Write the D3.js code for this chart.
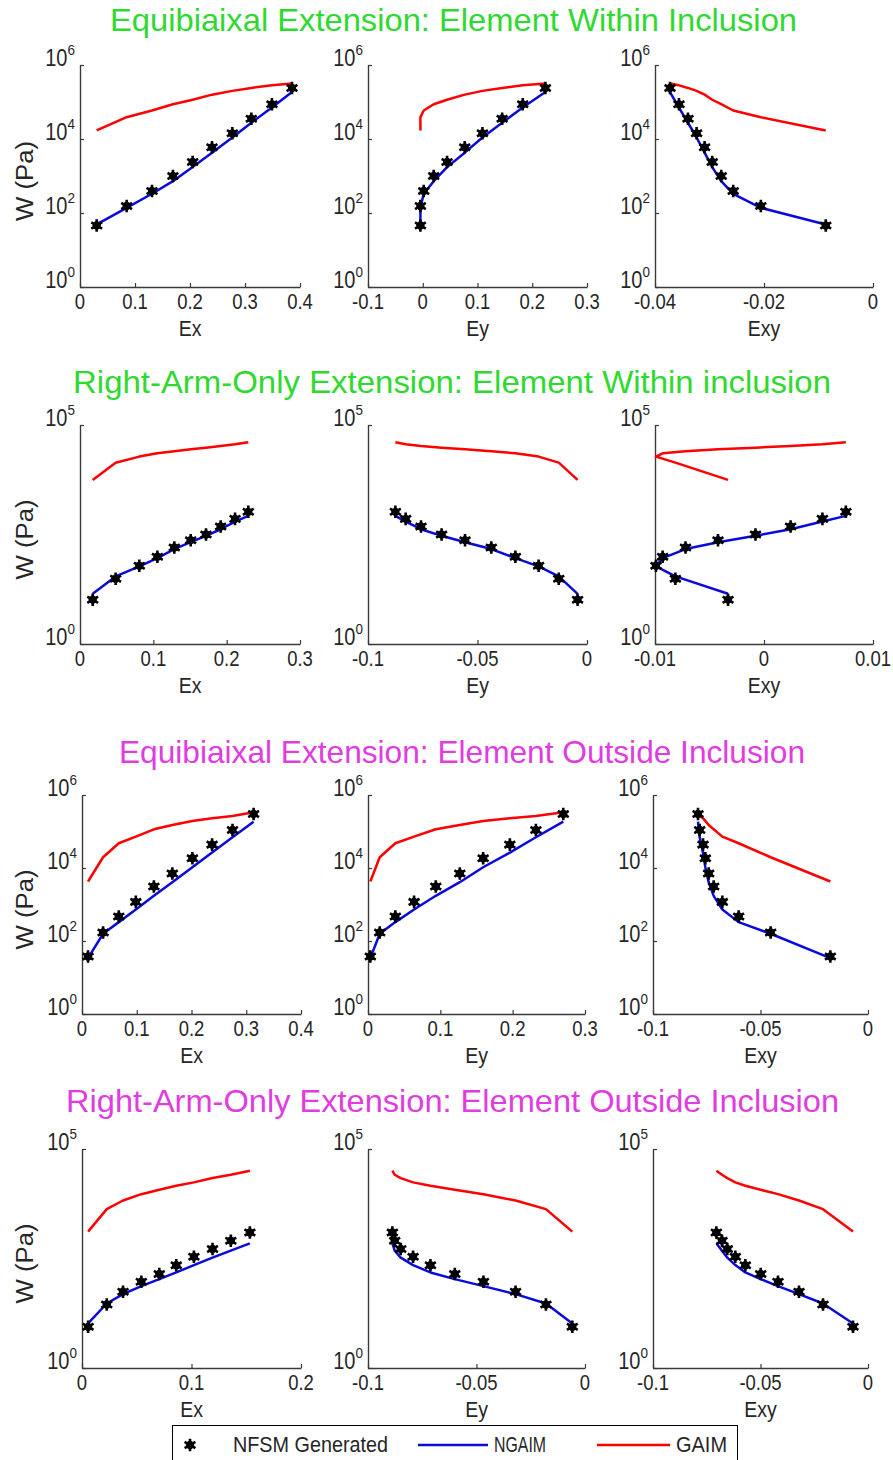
<!DOCTYPE html>
<html>
<head>
<meta charset="utf-8">
<script src="https://cdn.jsdelivr.net/npm/d3@7"></script>
<style>
  body { margin: 0; background: #fff; }
  svg { display: block; }
  text { font-family: "Liberation Sans", Arial, sans-serif; }
</style>
</head>
<body>
<svg id="fig" width="893" height="1460"></svg>
<script>
// ---- Load steps (1..10) for each loading case: strains and strain energy W (Pa) ----

// Equibiaixal extension, element within inclusion
const row1Ex    = [0.0303, 0.0848, 0.1309, 0.169, 0.2048, 0.24, 0.277, 0.3115, 0.349, 0.3855];
const row1Ey    = [-0.0043, -0.0043, 0.0018, 0.020, 0.0444, 0.0767, 0.109, 0.145, 0.1826, 0.224];
const row1Exy   = [-0.00867, -0.02058, -0.02565, -0.02785, -0.0295, -0.0309, -0.03237, -0.03395, -0.0356, -0.03725];
const row1Nfsm  = [46, 155, 394, 1000, 2390, 5950, 14200, 35500, 86500, 239000];
const row1Ngaim = [49, 138, 331, 724, 1740, 4270, 11000, 27500, 70800, 186000];
const row1Gaim  = [17000, 38900, 58900, 87100, 115000, 158000, 200000, 240000, 282000, 316000];

// Right-arm-only extension, element within inclusion
const row2Ex    = [0.0173, 0.0486, 0.0809, 0.1055, 0.1286, 0.1509, 0.1718, 0.1918, 0.2114, 0.2295];
const row2Ey    = [-0.0043, -0.0129, -0.0221, -0.0327, -0.0437, -0.0557, -0.0664, -0.0758, -0.0828, -0.0875];
const row2Exy   = [-0.0033, -0.00813, -0.00991, -0.0093, -0.0072, -0.00422, -0.00078, 0.00244, 0.00536, 0.00751];
const row2Nfsm  = [10.3, 30.8, 61.1, 98, 160, 235, 316, 481, 719, 1040];
const row2Ngaim = [14.0, 34.9, 59.0, 91.2, 147, 211, 295, 417, 625, 843];
const row2Gaim  = [5570, 13800, 19000, 22600, 25100, 27900, 30400, 33200, 36200, 40300];

// Equibiaixal extension, element outside inclusion
const row3Ex    = [0.011, 0.0385, 0.0672, 0.0983, 0.1313, 0.165, 0.2016, 0.2376, 0.2749, 0.3134];
const row3Ey    = [0.0032, 0.0162, 0.0378, 0.0637, 0.0937, 0.1269, 0.1592, 0.1961, 0.2321, 0.27];
const row3Exy   = [-0.01752, -0.04527, -0.06016, -0.06775, -0.07178, -0.07411, -0.07566, -0.07674, -0.07829, -0.07907];
const row3Nfsm  = [37.8, 171, 470, 1180, 3100, 7050, 18500, 43700, 110000, 302000];
const row3Ngaim = [34, 158, 329, 729, 1730, 4080, 10500, 26400, 69500, 186000];
const row3Gaim  = [4260, 19700, 47600, 72400, 115000, 151000, 195000, 230000, 266000, 336000];

// Right-arm-only extension, element outside inclusion
const row4Ex    = [0.00557, 0.0226, 0.03746, 0.05418, 0.07059, 0.08607, 0.1022, 0.1192, 0.1359, 0.1533];
const row4Ey    = [-0.00585, -0.018, -0.032, -0.0468, -0.06, -0.07123, -0.07923, -0.08492, -0.08769, -0.08877];
const row4Exy   = [-0.00698, -0.02093, -0.03209, -0.04186, -0.04992, -0.05705, -0.0617, -0.06543, -0.06791, -0.07054];
const row4Nfsm  = [8.7, 28.2, 55, 93.3, 140, 221, 348, 522, 809, 1240];
const row4Ngaim = [10.4, 29.7, 48.6, 74.1, 107, 152, 224, 330, 478, 703];
const row4Gaim  = [1300, 4230, 6670, 9310, 11700, 14500, 17300, 21700, 25800, 31900];

// ---- Titles, axis names and tick labels ----
const rowTitles = [
  "Equibiaixal Extension: Element Within Inclusion",
  "Right-Arm-Only Extension: Element Within inclusion",
  "Equibiaixal Extension: Element Outside Inclusion",
  "Right-Arm-Only Extension: Element Outside Inclusion"
];
const strainNames = ["Ex", "Ey", "Exy"];
const yLabel = "W (Pa)";
const legendNames = ["NFSM Generated", "NGAIM", "GAIM"];

const row1XTicks = [[0, 0.1, 0.2, 0.3, 0.4], [-0.1, 0, 0.1, 0.2, 0.3], [-0.04, -0.02, 0]];
const row2XTicks = [[0, 0.1, 0.2, 0.3], [-0.1, -0.05, 0], [-0.01, 0, 0.01]];
const row3XTicks = [[0, 0.1, 0.2, 0.3, 0.4], [0, 0.1, 0.2, 0.3], [-0.1, -0.05, 0]];
const row4XTicks = [[0, 0.1, 0.2], [-0.1, -0.05, 0], [-0.1, -0.05, 0]];
const row1YExps = [0, 2, 4, 6];
const row2YExps = [0, 5];
const row3YExps = [0, 2, 4, 6];
const row4YExps = [0, 5];

// ---- Assemble the rows ----
const rows = [
  { title: rowTitles[0], strains: [row1Ex, row1Ey, row1Exy], nfsm: row1Nfsm, ngaim: row1Ngaim, gaim: row1Gaim, xTicks: row1XTicks, yExps: row1YExps },
  { title: rowTitles[1], strains: [row2Ex, row2Ey, row2Exy], nfsm: row2Nfsm, ngaim: row2Ngaim, gaim: row2Gaim, xTicks: row2XTicks, yExps: row2YExps },
  { title: rowTitles[2], strains: [row3Ex, row3Ey, row3Exy], nfsm: row3Nfsm, ngaim: row3Ngaim, gaim: row3Gaim, xTicks: row3XTicks, yExps: row3YExps },
  { title: rowTitles[3], strains: [row4Ex, row4Ey, row4Exy], nfsm: row4Nfsm, ngaim: row4Ngaim, gaim: row4Gaim, xTicks: row4XTicks, yExps: row4YExps }
];

// ---- Layout and styling ----
const layout = [
  { top: 65,   bottom: 287,  lefts: [80, 368, 655], widths: [220, 219, 218], titleX: 453.5, titleY: 31,   titleLen: 687, color: "#2fd92f" },
  { top: 425,  bottom: 644,  lefts: [80, 368, 655], widths: [220, 219, 218], titleX: 452,   titleY: 393,  titleLen: 758, color: "#2fd92f" },
  { top: 795,  bottom: 1014, lefts: [82, 368, 653], widths: [219, 217, 215], titleX: 462,   titleY: 763,  titleLen: 686, color: "#e03ce0" },
  { top: 1149, bottom: 1368, lefts: [82, 368, 653], widths: [219, 217, 215], titleX: 452.5, titleY: 1112, titleLen: 773, color: "#e03ce0" }
];
const BLUE = "#0a0adc", RED = "#ff0000", AXIS = "#3a3a3a", TEXT = "#262626";
const textScaleY = 1.15;

const svg = d3.select("#fig");

function drawMarker(g, x, y) {
  const m = g.append("g").attr("transform", `translate(${x},${y})`);
  m.append("path").attr("d", d3.symbol(d3.symbolAsterisk, 110)())
    .attr("fill", "none").attr("stroke", "#000").attr("stroke-width", 2.6);
  m.append("circle").attr("r", 4.2).attr("fill", "#000");
}

function stretchedText(parent, x, y, str, opts) {
  const g = parent.append("g").attr("transform", `translate(${x},${y}) scale(1,${textScaleY})`);
  const t = g.append("text").attr("x", 0).attr("y", 0)
    .attr("font-size", opts.size).attr("fill", opts.fill || TEXT)
    .attr("text-anchor", opts.anchor || "middle")
    .text(str);
  if (opts.len) t.attr("textLength", opts.len).attr("lengthAdjust", "spacingAndGlyphs");
  return t;
}

rows.forEach((row, ri) => {
  const L = layout[ri];

  svg.append("g").attr("transform", `translate(${L.titleX},${L.titleY}) scale(1,1.08)`)
    .append("text")
    .attr("text-anchor", "middle")
    .attr("font-family", "'Open Sans', 'Liberation Sans', sans-serif")
    .attr("font-size", 29)
    .attr("fill", L.color)
    .attr("textLength", L.titleLen)
    .attr("lengthAdjust", "spacingAndGlyphs")
    .text(row.title);

  const yMaxExp = d3.max(row.yExps);
  const y = d3.scaleLog().domain([1, Math.pow(10, yMaxExp)]).range([L.bottom, L.top]);

  row.strains.forEach((strain, ci) => {
    const ticks = row.xTicks[ci];
    const x0 = L.lefts[ci], w = L.widths[ci];
    const x = d3.scaleLinear().domain([ticks[0], ticks[ticks.length - 1]]).range([x0, x0 + w]);
    const g = svg.append("g");

    // x axis (ticks point inward)
    const xAxis = d3.axisBottom(x).tickValues(ticks).tickSizeInner(-4).tickSizeOuter(0).tickFormat(() => "");
    const gx = g.append("g").attr("transform", `translate(0,${L.bottom})`).call(xAxis);
    gx.select(".domain").attr("stroke", AXIS).attr("stroke-width", 1.4);
    gx.selectAll(".tick line").attr("stroke", AXIS).attr("stroke-width", 1.2);
    ticks.forEach(v => {
      stretchedText(g, x(v), L.bottom + 22, String(v), { size: 18.5 });
    });

    // y axis (log, labelled decades)
    const yAxis = d3.axisLeft(y).tickValues(row.yExps.map(e => Math.pow(10, e)))
      .tickSizeInner(-4).tickSizeOuter(0).tickFormat(() => "");
    const gy = g.append("g").attr("transform", `translate(${x0},0)`).call(yAxis);
    gy.select(".domain").attr("stroke", AXIS).attr("stroke-width", 1.4);
    gy.selectAll(".tick line").attr("stroke", AXIS).attr("stroke-width", 1.2);
    row.yExps.forEach(e => {
      const lg = g.append("g").attr("transform", `translate(${x0 - 5},${y(Math.pow(10, e)) + 1}) scale(1,${textScaleY})`);
      const t = lg.append("text").attr("text-anchor", "end").attr("fill", TEXT).attr("font-size", 20);
      t.append("tspan").text("10");
      t.append("tspan").attr("font-size", 13.5).attr("dy", -10).text(String(e));
    });

    // axis names
    stretchedText(g, x0 + w / 2, L.bottom + 49, strainNames[ci], { size: 19.5 });
    if (ci === 0) {
      const cy = (L.top + L.bottom) / 2 + 5;
      g.append("g").attr("transform", `translate(33,${cy}) rotate(-90) scale(1,${textScaleY})`)
        .append("text").attr("text-anchor", "middle").attr("font-size", 21).attr("fill", TEXT)
        .attr("textLength", 80).attr("lengthAdjust", "spacingAndGlyphs")
        .text(yLabel);
    }

    // model curves
    const pts = (wv) => strain.map((s, i) => [x(s), y(wv[i])]);
    const line = d3.line();
    g.append("path").attr("d", line(pts(row.gaim)))
      .attr("fill", "none").attr("stroke", RED).attr("stroke-width", 2.5).attr("stroke-linejoin", "round");
    g.append("path").attr("d", line(pts(row.ngaim)))
      .attr("fill", "none").attr("stroke", BLUE).attr("stroke-width", 2.5).attr("stroke-linejoin", "round");

    // NFSM data points
    strain.forEach((s, i) => drawMarker(g, x(s), y(row.nfsm[i])));
  });
});

// ---- Legend ----
const lg = svg.append("g");
lg.append("rect").attr("x", 172.5).attr("y", 1425.5).attr("width", 565).attr("height", 45)
  .attr("fill", "#fff").attr("stroke", "#000").attr("stroke-width", 1);
const legY = 1445;
drawMarker(lg, 190, legY);
stretchedText(lg, 233, legY + 7, legendNames[0], { size: 19, anchor: "start", len: 155 });
lg.append("line").attr("x1", 418).attr("x2", 488).attr("y1", legY).attr("y2", legY)
  .attr("stroke", BLUE).attr("stroke-width", 2.5);
stretchedText(lg, 494, legY + 7, legendNames[1], { size: 19, anchor: "start", len: 52 });
lg.append("line").attr("x1", 597).attr("x2", 670).attr("y1", legY).attr("y2", legY)
  .attr("stroke", RED).attr("stroke-width", 2.5);
stretchedText(lg, 676, legY + 7, legendNames[2], { size: 19, anchor: "start", len: 51 });
</script>
</body>
</html>
